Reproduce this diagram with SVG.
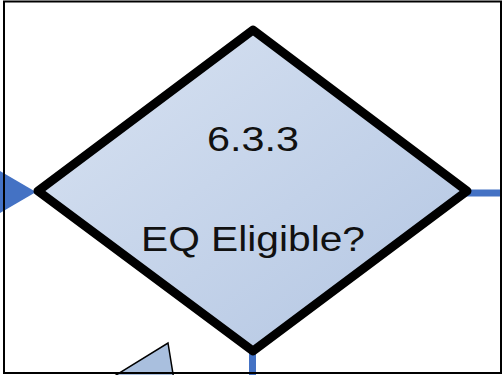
<svg xmlns="http://www.w3.org/2000/svg" width="502" height="375" viewBox="0 0 502 375">
  <defs>
    <linearGradient id="decisionFill" x1="0" y1="0" x2="1" y2="1">
      <stop offset="0" stop-color="#D9E3F2"/>
      <stop offset="1" stop-color="#B2C5E2"/>
    </linearGradient>
    <style>
      .flow { stroke: #4472C4; stroke-width: 7; fill: none; }
      .arrowhead { fill: #4472C4; stroke: none; }
      .decision { fill: url(#decisionFill); stroke: #000; stroke-width: 9; stroke-linejoin: round; }
      .process { fill: #A9BFDE; stroke: #000; stroke-width: 1.5; stroke-linejoin: miter; }
      .label { font-family: "Liberation Sans", Arial, sans-serif; font-size: 35px; fill: #111; text-anchor: middle; }
      .frame { fill: none; stroke: #000; stroke-width: 2; }
    </style>
  </defs>

  <rect width="502" height="375" fill="#fff"/>

  <!-- connectors -->
  <g id="connectors">
    <polygon class="arrowhead" points="0,171 36,192 0,213"/>
    <line class="flow" x1="466" y1="193" x2="502" y2="193"/>
    <line class="flow" x1="252.5" y1="348" x2="252.5" y2="375"/>
  </g>

  <!-- partially visible neighbouring node -->
  <g id="node-below">
    <polygon class="process" points="168,343 174,380 108,380"/>
  </g>

  <!-- decision 6.3.3 -->
  <g id="node-6-3-3">
    <polygon class="decision" points="253,30 467,191 253,351 38,191"/>
    <text class="label" x="253" y="151" textLength="92" lengthAdjust="spacingAndGlyphs">6.3.3</text>
    <text class="label" x="253" y="251" textLength="224" lengthAdjust="spacingAndGlyphs">EQ Eligible?</text>
  </g>

  <rect class="frame" x="4" y="1.5" width="497" height="371.5"/>
</svg>
